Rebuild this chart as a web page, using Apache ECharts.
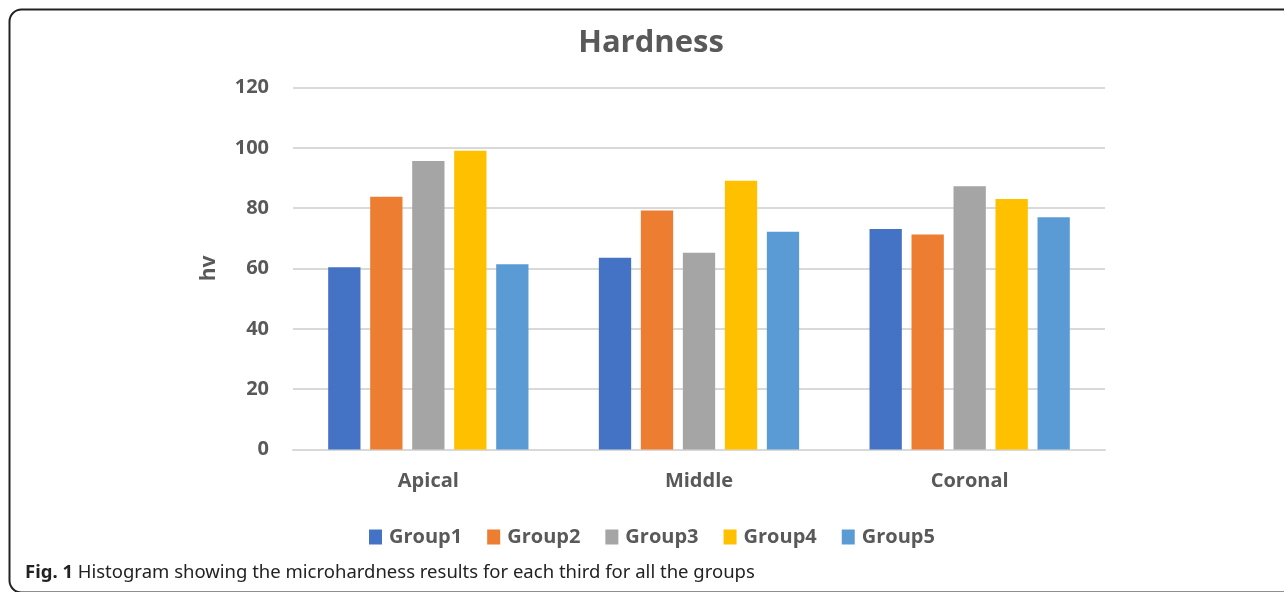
<!DOCTYPE html>
<html>
<head>
<meta charset="utf-8">
<script src="https://cdn.jsdelivr.net/npm/echarts@6/dist/echarts.min.js"></script>
<style>
html,body{margin:0;padding:0;background:#fff;}
#chart{width:1284px;height:592px;}
</style>
</head>
<body>
<div id="chart"></div>
<script>
var categories = ['Apical', 'Middle', 'Coronal'];
var seriesNames = ['Group1', 'Group2', 'Group3', 'Group4', 'Group5'];
var group1 = [60.4, 63.6, 73.1];
var group2 = [83.8, 79.2, 71.3];
var group3 = [95.6, 65.2, 87.3];
var group4 = [99.0, 89.1, 83.0];
var group5 = [61.4, 72.2, 77.0];
var yTicks = [0, 20, 40, 60, 80, 100, 120];
var colors = ['#4472C4', '#ED7D31', '#A5A5A5', '#FFC000', '#5B9BD5'];
var titleText = 'Hardness';
var yName = 'hv';
var captionBold = 'Fig. 1';
var captionRest = ' Histogram showing the microhardness results for each third for all the groups';

var values = [group1, group2, group3, group4, group5];
var textColor = '#595959';
var font = 'Open Sans';

var chart = echarts.init(document.getElementById('chart'), null, {renderer: 'canvas'});
var series = seriesNames.map(function (n, i) {
  return {
    name: n,
    type: 'bar',
    data: values[i],
    itemStyle: {color: colors[i]},
    barGap: '30%',
    barCategoryGap: '26%'
  };
});

chart.setOption({
  animation: false,
  backgroundColor: '#ffffff',
  color: colors,
  title: {
    text: titleText,
    left: 646,
    textAlign: 'center',
    top: 23,
    textStyle: {fontFamily: font, fontWeight: 'bold', fontSize: 31, color: textColor}
  },
  grid: {left: 293, right: 179, top: 87.5, bottom: 142.5, containLabel: false},
  legend: {
    data: seriesNames,
    left: 364,
    top: 522,
    itemWidth: 13,
    itemHeight: 15,
    itemGap: 25,
    icon: 'rect',
    textStyle: {fontFamily: font, fontWeight: 'bold', fontSize: 20, color: textColor, padding: [0, 0, 0, 2]}
  },
  xAxis: {
    type: 'category',
    data: categories,
    axisLine: {show: true, lineStyle: {color: '#d9d9d9', width: 2}},
    axisTick: {show: false},
    axisLabel: {margin: 22, fontFamily: font, fontWeight: 'bold', fontSize: 20, color: textColor}
  },
  yAxis: {
    type: 'value',
    min: yTicks[0],
    max: yTicks[yTicks.length - 1],
    interval: yTicks[1] - yTicks[0],
    name: yName,
    nameLocation: 'middle',
    nameGap: 73,
    nameTextStyle: {fontFamily: font, fontWeight: 'bold', fontSize: 21, color: textColor},
    axisLine: {show: false},
    axisTick: {show: false},
    splitLine: {lineStyle: {color: '#d9d9d9', width: 2}},
    axisLabel: {margin: 24, fontFamily: font, fontWeight: 'bold', fontSize: 20, color: textColor}
  },
  series: series,
  graphic: [
    {
      type: 'rect',
      shape: {x: 9.5, y: 9.5, width: 1400, height: 583, r: 12},
      style: {fill: 'none', stroke: '#222', lineWidth: 2},
      silent: true,
      z: 100
    },
    {
      type: 'text',
      left: 25,
      top: 563,
      style: {
        text: '{b|' + captionBold + '}{r|' + captionRest + '}',
        rich: {
          b: {fontFamily: 'Noto Sans', fontWeight: 'bold', fontSize: 18.5, fill: '#222'},
          r: {fontFamily: 'Noto Sans', fontWeight: 'normal', fontSize: 18.5, fill: '#222'}
        }
      },
      z: 100
    }
  ]
});
</script>
</body>
</html>
